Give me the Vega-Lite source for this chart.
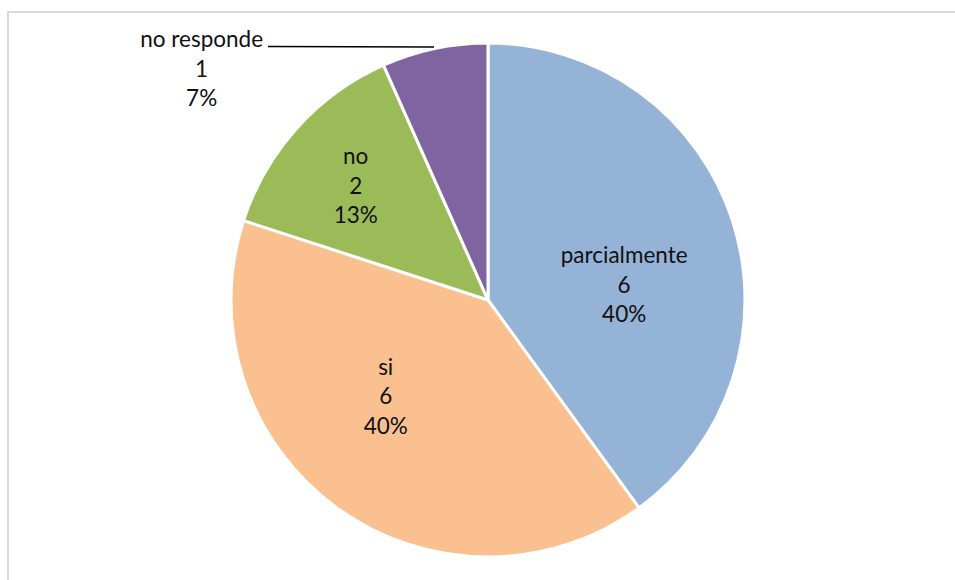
{
  "$schema": "https://vega.github.io/schema/vega-lite/v6.json",
  "width": 960,
  "height": 576,
  "padding": {"left": 8, "top": 12, "right": 0, "bottom": 0},
  "background": "white",
  "view": {"stroke": "#d9d9d9", "strokeWidth": 2},
  "data": {
    "values": [
      {"cat": "parcialmente", "n": 6, "orden": 1},
      {"cat": "si", "n": 6, "orden": 2},
      {"cat": "no", "n": 2, "orden": 3},
      {"cat": "no responde", "n": 1, "orden": 4}
    ]
  },
  "transform": [
    {"joinaggregate": [{"op": "sum", "field": "n", "as": "total"}]},
    {"window": [{"op": "sum", "field": "n", "as": "cum"}], "sort": [{"field": "orden"}], "frame": [null, 0]},
    {"calculate": "datum.cum - datum.n / 2", "as": "mid"},
    {"calculate": "datum.cat + '\\n' + datum.n + '\\n' + format(datum.n / datum.total, '.0%')", "as": "label"}
  ],
  "layer": [
    {
      "mark": {"type": "arc", "radius": 257, "stroke": "white", "strokeWidth": 3},
      "encoding": {
        "theta": {"field": "n", "type": "quantitative", "stack": true},
        "order": {"field": "orden", "type": "quantitative"},
        "color": {
          "field": "cat",
          "type": "nominal",
          "scale": {"domain": ["parcialmente", "si", "no", "no responde"], "range": ["#95B3D7", "#FAC090", "#9BBB59", "#8064A2"]},
          "legend": null
        }
      }
    },
    {
      "transform": [{"filter": "datum.cat == 'parcialmente'"}],
      "mark": {"type": "text", "radius": 140, "dx": 3, "dy": -0.5, "font": "Lato", "fontSize": 22.5, "lineHeight": 29.5, "lineBreak": "\n", "color": "#111111", "align": "center", "baseline": "middle"},
      "encoding": {
        "theta": {"field": "mid", "type": "quantitative", "stack": false},
        "text": {"field": "label"}
      }
    },
    {
      "transform": [{"filter": "datum.cat == 'si'"}],
      "mark": {"type": "text", "radius": 140, "dx": -20, "dy": -45.5, "font": "Lato", "fontSize": 22.5, "lineHeight": 29.5, "lineBreak": "\n", "color": "#111111", "align": "center", "baseline": "middle"},
      "encoding": {
        "theta": {"field": "mid", "type": "quantitative", "stack": false},
        "text": {"field": "label"}
      }
    },
    {
      "transform": [{"filter": "datum.cat == 'no'"}],
      "mark": {"type": "text", "radius": 174, "dx": -3, "dy": -26.5, "font": "Lato", "fontSize": 22.5, "lineHeight": 29.5, "lineBreak": "\n", "color": "#111111", "align": "center", "baseline": "middle"},
      "encoding": {
        "theta": {"field": "mid", "type": "quantitative", "stack": false},
        "text": {"field": "label"}
      }
    },
    {
      "transform": [{"filter": "datum.cat == 'no responde'"}],
      "mark": {"type": "text", "radius": 300, "dx": -224, "dy": 33.5, "font": "Lato", "fontSize": 22.5, "lineHeight": 29.5, "lineBreak": "\n", "color": "#111111", "align": "center", "baseline": "middle"},
      "encoding": {
        "theta": {"field": "mid", "type": "quantitative", "stack": false},
        "text": {"field": "label"}
      }
    },
    {
      "data": {"values": [{"x": -220, "x2": -54, "y": 253.5, "y2": 253}]},
      "mark": {"type": "rule", "color": "#000000", "strokeWidth": 1.5},
      "encoding": {
        "x": {"field": "x", "type": "quantitative", "scale": {"domain": [-480, 480]}, "axis": null},
        "x2": {"field": "x2"},
        "y": {"field": "y", "type": "quantitative", "scale": {"domain": [-288, 288]}, "axis": null},
        "y2": {"field": "y2"}
      }
    }
  ]
}
